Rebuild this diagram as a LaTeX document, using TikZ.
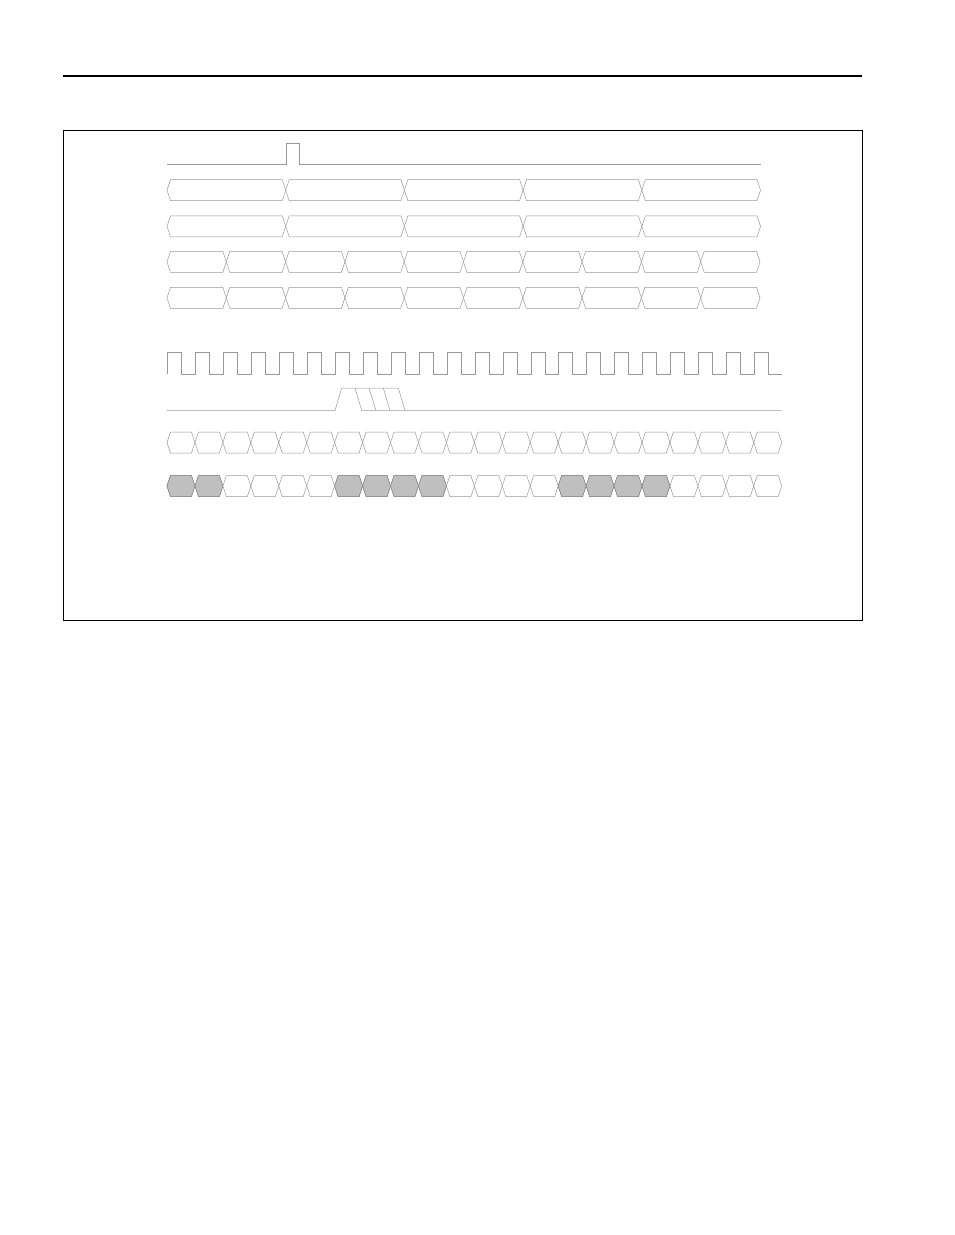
\documentclass[tikz,border=0pt]{standalone}
\usepackage{xcolor}

% one bus cell: [options] left x, right x, centre y
\newcommand{\hexcell}[4][]{%
  \draw[wave,#1] ({#2},{#4}) -- ({#2+3.5},{#4-10.5}) -- ({#3-3.5},{#4-10.5})
    -- ({#3},{#4}) -- ({#3-3.5},{#4+10.5}) -- ({#2+3.5},{#4+10.5}) -- cycle;}

\begin{document}
\begin{tikzpicture}[x=1pt, y=-1pt,
    wave/.style={draw=black!40, line width=0.5pt},
    frame/.style={draw=black, line width=0.8pt},
    busfill/.style={fill=black!25, draw=black!50}]
  \useasboundingbox (0,0) rectangle (954,1235);

  % Define the page rule and the frame
  \draw[frame, line width=1.1pt] (63,76) -- (862,76);
  \draw[frame] (63,130) rectangle (862,620);

  % Draw the single pulse
  \draw[wave] (167,164) -- (286.7,164) -- (286.7,143.3) -- (299.3,143.3) -- (299.3,164) -- (760.7,164);

  % Draw the wide bus rows
  \foreach \y in {190.2,226.3} {
    \foreach \i in {0,...,4} {
      \hexcell{167+118.7*\i}{167+118.7*(\i+1)}{\y}
    }
  }

  % Draw the half-width bus rows
  \foreach \y in {261.8,297.8} {
    \foreach \i in {0,...,9} {
      \hexcell{167+59.3*\i}{167+59.3*(\i+1)}{\y}
    }
  }

  % Draw the clock
  \draw[wave] (167.3,374) -- ++(0,-21.3)
    \foreach \i in {1,...,21} { -- ++(13.98,0) -- ++(0,21.3) -- ++(13.98,0) -- ++(0,-21.3) }
    -- ++(13.98,0) -- ++(0,21.3) -- (781.7,374);

  % Draw the strobe window
  \draw[wave] (167,410.5) -- (335,410.5) -- (341.7,388) -- (398.3,388) -- (405,410.5);
  \draw[wave] (355,388) -- (361.7,410.5) -- (781.7,410.5);
  \draw[wave] (369,388) -- (376,410.5);
  \draw[wave] (383.3,388) -- (390,410.5);

  % Draw the narrow bus rows
  \foreach \i in {0,...,21} {
    \hexcell{167+27.94*\i}{167+27.94*(\i+1)}{442.5}
    \hexcell{167+27.94*\i}{167+27.94*(\i+1)}{486}
  }
  \foreach \i in {0,1,6,7,8,9,14,15,16,17} {
    \hexcell[busfill]{167+27.94*\i}{167+27.94*(\i+1)}{486}
  }
\end{tikzpicture}
\end{document}
